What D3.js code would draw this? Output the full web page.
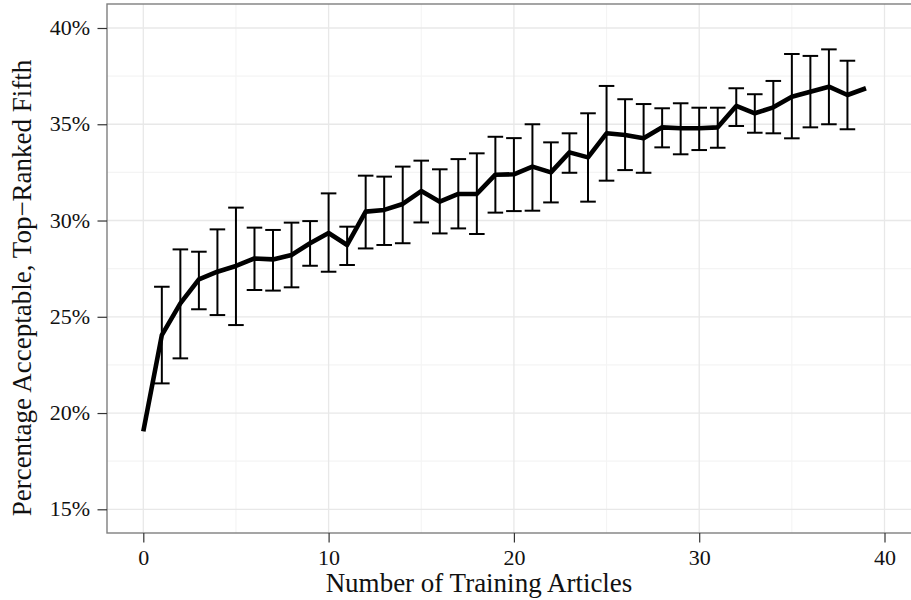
<!DOCTYPE html>
<html>
<head>
<meta charset="utf-8">
<script src="https://cdn.jsdelivr.net/npm/d3@7"></script>
<style>
  html, body { margin: 0; padding: 0; background: #fff; }
  svg { display: block; }
  text { font-family: "Liberation Serif", "Times New Roman", serif; fill: #111; }
</style>
</head>
<body>
<svg id="chart" width="911" height="600"></svg>
<script>
// ---- data ----
const articles = [0,1,2,3,4,5,6,7,8,9,10,11,12,13,14,15,16,17,18,19,20,21,22,23,24,25,26,27,28,29,30,31,32,33,34,35,36,37,38,39];
const meanPct = [19.05,24.05,25.7,26.94,27.34,27.64,28.03,27.98,28.21,28.82,29.35,28.73,30.46,30.55,30.86,31.53,30.98,31.38,31.38,32.38,32.4,32.8,32.5,33.54,33.28,34.53,34.44,34.27,34.84,34.79,34.79,34.84,35.95,35.57,35.88,36.43,36.69,36.95,36.52,36.87];
const upperPct = [null,26.56,28.5,28.38,29.54,30.67,29.63,29.51,29.89,29.97,31.41,29.68,32.33,32.28,32.8,33.11,32.66,33.19,33.49,34.35,34.28,35.0,34.06,34.53,35.57,36.99,36.3,36.05,35.83,36.09,35.86,35.86,36.87,36.56,37.25,38.65,38.55,38.89,38.3,null];
const lowerPct = [null,21.54,22.84,25.39,25.09,24.57,26.39,26.36,26.53,27.65,27.34,27.69,28.55,28.73,28.82,29.9,29.33,29.59,29.3,30.41,30.49,30.51,30.94,32.48,30.98,32.07,32.62,32.48,33.8,33.44,33.66,33.78,34.91,34.56,34.53,34.27,34.84,35.0,34.74,null];
const xTicks = [0,10,20,30,40];
const xMinor = [5,15,25,35];
const yTicks = [15,20,25,30,35,40];
const yMinor = [17.5,22.5,27.5,32.5,37.5];
const xTitle = "Number of Training Articles";
const yTitle = "Percentage Acceptable, Top\u2212Ranked Fifth";

// ---- layout ----
const svg = d3.select("#chart");
const x = d3.scaleLinear().domain([0, 40]).range([143.3, 884.5]);
const y = d3.scaleLinear().domain([15, 40]).range([509.3, 28]);
const panel = { left: 107, top: 4, bottom: 533, right: 930 };

const g = svg.append("g");

// minor grid
g.selectAll(".xminor").data(xMinor).enter().append("line")
  .attr("x1", d => x(d)).attr("x2", d => x(d))
  .attr("y1", panel.top).attr("y2", panel.bottom)
  .attr("stroke", "#f4f4f4").attr("stroke-width", 1.1);
g.selectAll(".yminor").data(yMinor).enter().append("line")
  .attr("x1", panel.left).attr("x2", panel.right)
  .attr("y1", d => y(d)).attr("y2", d => y(d))
  .attr("stroke", "#f4f4f4").attr("stroke-width", 1.1);
// major grid
g.selectAll(".xmajor").data(xTicks).enter().append("line")
  .attr("x1", d => x(d)).attr("x2", d => x(d))
  .attr("y1", panel.top).attr("y2", panel.bottom)
  .attr("stroke", "#e8e8e8").attr("stroke-width", 1.3);
g.selectAll(".ymajor").data(yTicks).enter().append("line")
  .attr("x1", panel.left).attr("x2", panel.right)
  .attr("y1", d => y(d)).attr("y2", d => y(d))
  .attr("stroke", "#e8e8e8").attr("stroke-width", 1.3);

// error bars
const ebData = articles.map((a, i) => ({ a, lo: lowerPct[i], hi: upperPct[i] })).filter(d => d.lo != null);
const capHalf = 0.42;
const eb = g.append("g").attr("stroke", "#000").attr("stroke-width", 2).attr("fill", "none");
eb.selectAll(".v").data(ebData).enter().append("line")
  .attr("x1", d => x(d.a)).attr("x2", d => x(d.a))
  .attr("y1", d => y(d.lo)).attr("y2", d => y(d.hi));
eb.selectAll(".t").data(ebData).enter().append("line")
  .attr("x1", d => x(d.a - capHalf)).attr("x2", d => x(d.a + capHalf))
  .attr("y1", d => y(d.hi)).attr("y2", d => y(d.hi));
eb.selectAll(".b").data(ebData).enter().append("line")
  .attr("x1", d => x(d.a - capHalf)).attr("x2", d => x(d.a + capHalf))
  .attr("y1", d => y(d.lo)).attr("y2", d => y(d.lo));

// main line
const line = d3.line().x((d, i) => x(articles[i])).y(d => y(d));
g.append("path").datum(meanPct)
  .attr("d", line)
  .attr("fill", "none").attr("stroke", "#000")
  .attr("stroke-width", 4.6).attr("stroke-linejoin", "round");

// panel border
g.append("rect")
  .attr("x", panel.left).attr("y", panel.top)
  .attr("width", panel.right - panel.left).attr("height", panel.bottom - panel.top)
  .attr("fill", "none").attr("stroke", "#7f7f7f").attr("stroke-width", 1.4);

// axes
const xAxis = d3.axisBottom(x).tickValues(xTicks).tickSize(9.5).tickFormat(d3.format("d"));
const xg = svg.append("g").attr("transform", `translate(0,${panel.bottom})`).call(xAxis);
const yAxis = d3.axisLeft(y).tickValues(yTicks).tickSize(9.5).tickFormat(d => d + "%");
const yg = svg.append("g").attr("transform", `translate(${panel.left},0)`).call(yAxis);
[xg, yg].forEach(a => {
  a.select(".domain").remove();
  a.selectAll(".tick line").attr("stroke", "#333").attr("stroke-width", 1.2);
  a.selectAll(".tick text").attr("font-size", 22).attr("fill", "#111");
});
xg.selectAll(".tick text").attr("y", 32).attr("dy", 0);
yg.selectAll(".tick text").attr("x", -17).attr("dy", "0.3em");

// titles
svg.append("text")
  .attr("x", 479).attr("y", 592)
  .attr("text-anchor", "middle").attr("font-size", 27)
  .text(xTitle);
svg.append("text")
  .attr("transform", `translate(31,288) rotate(-90)`)
  .attr("text-anchor", "middle").attr("font-size", 27)
  .text(yTitle);
</script>
</body>
</html>
